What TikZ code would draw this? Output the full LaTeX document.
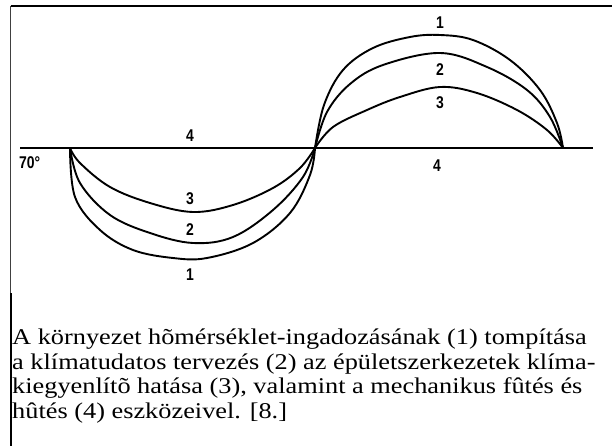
\documentclass[tikz,border=0pt]{standalone}
\usepackage{fontspec}
\setmainfont{Liberation Serif}
\newfontfamily\capfont[FakeStretch=1.17]{Liberation Serif}
\newfontfamily\labelfont[FakeStretch=0.82]{Liberation Sans}
\begin{document}
\begin{tikzpicture}[x=1pt,y=-1pt,
  curve/.style={line width=1.9pt, line join=round, line cap=round},
  axisline/.style={line width=1.2pt},
  numlabel/.style={font=\labelfont\bfseries\fontsize{17}{17}\selectfont, inner sep=0pt},
  caption/.style={font=\capfont\fontsize{22.5}{24.4}\selectfont, inner sep=0pt, align=left, anchor=base west}]
\useasboundingbox (0,0) rectangle (612,446);
\fill[white] (0,0) rectangle (612,446);
% frame
\coordinate (tl) at (10.5,6);
\coordinate (tr) at (612,6);
\coordinate (lm) at (10.5,293);
\coordinate (lm2) at (11,293);
\coordinate (lb) at (11,446);
\draw[line width=2pt] (tl) -- (tr);
\draw[line width=0.9pt, black!75] (tl) -- (lm);
\draw[line width=2pt] (lm2) -- (lb);
% axis
\coordinate (a0) at (20,148);
\coordinate (a1) at (593,148);
\draw[axisline] (a0) -- (a1);
% left trough
\draw[curve] plot[smooth, tension=0.6] coordinates {(70,148) (75,197) (100,230) (133,250) (173,258) (207,258) (253,243) (290,213) (310,175) (315,148)};
\draw[curve] plot[smooth, tension=0.6] coordinates {(70,148) (80,183) (110,215) (150,233) (193,243) (233,237) (273,210) (303,177) (315,148)};
\draw[curve] plot[smooth, tension=0.6] coordinates {(70,148) (80,163) (110,187) (150,203) (193,212) (233,205) (273,188) (300,168) (315,148)};
% right hump
\draw[curve] plot[smooth, tension=0.6] coordinates {(315,148) (324,105) (343,70) (373,48) (410,37) (440,35) (473,40) (510,60) (540,90) (557,123) (563,148)};
\draw[curve] plot[smooth, tension=0.6] coordinates {(315,148) (327,112) (350,84) (383,65) (440,53) (487,67) (527,90) (550,117) (563,148)};
\draw[curve] plot[smooth, tension=0.6] coordinates {(315,148) (333,127) (367,110) (400,97) (440,87) (477,93) (517,110) (547,130) (563,148)};
% labels
\node[numlabel] (r1) at (440,23) {1};
\node[numlabel] (r2) at (440,70) {2};
\node[numlabel] (r3) at (440,103) {3};
\node[numlabel] (l4) at (190,136) {4};
\node[numlabel] (r4) at (437,166) {4};
\node[numlabel] (l3) at (190,199) {3};
\node[numlabel] (l2) at (190,230) {2};
\node[numlabel] (l1) at (190,275) {1};
\node[numlabel, anchor=west] (deg) at (19,163) {70°};
% caption
\node[caption] (cap) at (12,418) {A környezet hõmérséklet-ingadozásának (1) tompítása\\
a klímatudatos tervezés (2) az épületszerkezetek klíma-\\
kiegyenlítõ hatása (3), valamint a mechanikus fûtés és\\
hûtés (4) eszközeivel. [8.]};
\end{tikzpicture}
\end{document}
